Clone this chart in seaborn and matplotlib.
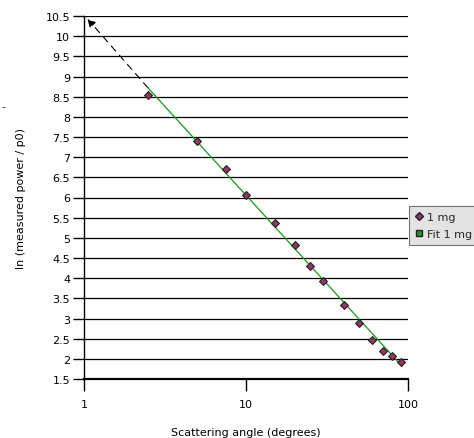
import matplotlib.pyplot as plt
import numpy as np
import pandas as pd
import seaborn as sns
from matplotlib.lines import Line2D

# Measured data (1 mg sample)
angle_deg = [2.5, 5, 7.5, 10, 15, 20, 25, 30, 40, 50, 60, 70, 80, 90]
ln_power = [8.54, 7.40, 6.71, 6.06, 5.37, 4.82, 4.30, 3.93, 3.33, 2.89, 2.47, 2.19, 2.07, 1.92]

# Fit line end points
fit_x = [2.48, 91.8]
fit_y = [8.72, 1.82]

# Extrapolation arrow (start, end)
arrow_x = [2.48, 1.05]
arrow_y = [8.72, 10.43]

y_ticks = np.arange(1.5, 10.51, 0.5)
y_labels = ["1.5", "2", "2.5", "3", "3.5", "4", "4.5", "5", "5.5", "6",
            "6.5", "7", "7.5", "8", "8.5", "9", "9.5", "10", "10.5"]

df = pd.DataFrame({"angle": angle_deg, "lnp": ln_power})
fit = pd.DataFrame({"angle": fit_x, "lnp": fit_y})

sns.set_style("ticks")
plt.rcParams["font.family"] = ["DejaVu Sans"]
plt.rcParams["font.size"] = 8

fig = plt.figure(figsize=(4.74, 4.39), dpi=100)
ax = fig.add_axes([84 / 474, 1 - 380 / 439, 324 / 474, 363 / 439])

for yv in y_ticks:
    ax.axhline(yv, color="black", linewidth=0.9, zorder=1)

ax.annotate("", xy=(arrow_x[1], arrow_y[1]), xytext=(arrow_x[0], arrow_y[0]),
            arrowprops=dict(arrowstyle="-|>", color="black", linestyle=(0, (6, 5)),
                            linewidth=0.8, mutation_scale=12, shrinkA=0, shrinkB=0),
            zorder=3)

sns.lineplot(data=fit, x="angle", y="lnp", color="#11a011", linewidth=0.9, ax=ax, zorder=3)
sns.scatterplot(data=df, x="angle", y="lnp", marker="D", s=16, color="#993366",
                edgecolor="#222222", linewidth=0.8, ax=ax, zorder=4)

ax.set_xscale("log")
ax.set_xlim(1, 100)
ax.set_ylim(1.5, 10.5)
ax.set_xticks([1, 10, 100])
ax.set_xticklabels(["1", "10", "100"])
ax.minorticks_off()
ax.set_yticks(y_ticks)
ax.set_yticklabels(y_labels)
ax.tick_params(axis="y", which="major", left=True, direction="out", length=8,
               width=1.0, color="black", labelcolor="black", pad=2, labelsize=8)
ax.tick_params(axis="x", which="major", bottom=True, direction="out", length=8.6,
               width=1.0, color="black", labelcolor="black", pad=6, labelsize=8)

for side in ["top", "right"]:
    ax.spines[side].set_visible(False)
ax.spines["left"].set_color("black")
ax.spines["left"].set_linewidth(1.0)
ax.spines["bottom"].set_color("black")
ax.spines["bottom"].set_linewidth(1.6)

ax.set_xlabel("Scattering angle (degrees)", fontsize=8, labelpad=13, color="black")
ax.set_ylabel("ln (measured power / p0)", fontsize=8, labelpad=14, color="black")

handles = [
    Line2D([], [], marker="D", linestyle="none", markersize=4,
           markerfacecolor="#993366", markeredgecolor="#222222"),
    Line2D([], [], marker="s", linestyle="none", markersize=5,
           markerfacecolor="#11a011", markeredgecolor="#222222"),
]
leg = fig.legend(handles, ["1 mg", "Fit 1 mg"], loc="upper left",
                 bbox_to_anchor=(409 / 474, 1 - 207 / 439), fontsize=8,
                 frameon=True, fancybox=False, borderpad=0.5, handletextpad=0.3,
                 handlelength=0.8, labelspacing=0.7, borderaxespad=0)
leg.get_frame().set_facecolor("#dcdcdc")
leg.get_frame().set_edgecolor("#555555")
leg.get_frame().set_linewidth(0.8)

fig.text(1 / 474, 1 - 107 / 439, "-", fontsize=8, va="center")

fig.savefig("out.png", dpi=100)
